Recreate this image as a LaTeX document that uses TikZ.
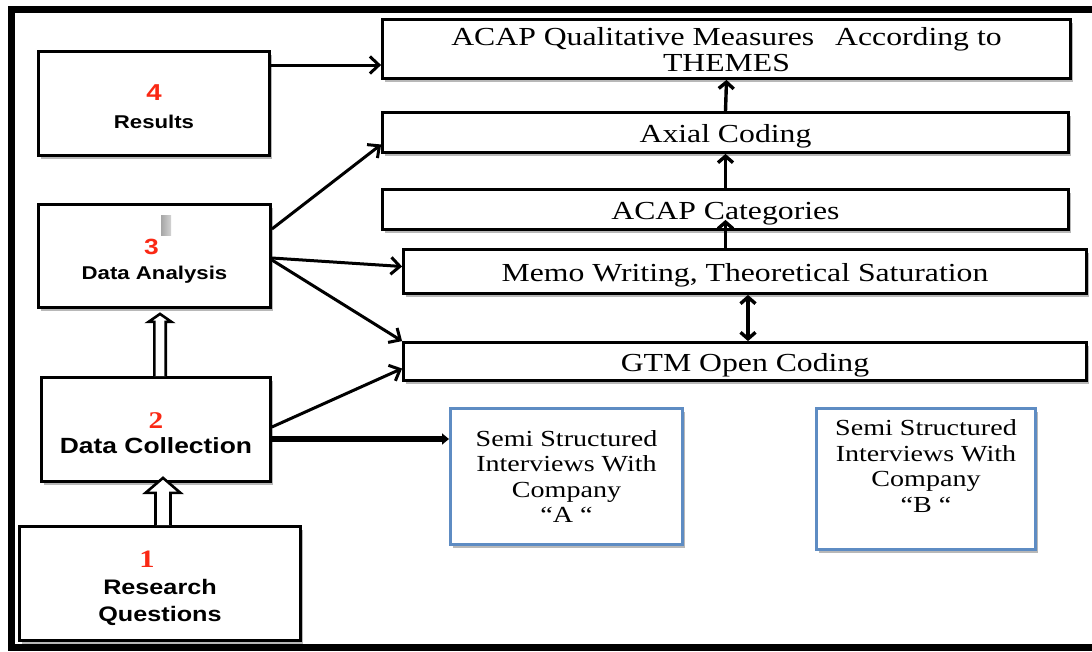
\documentclass[tikz,border=0pt]{standalone}
\usepackage{fontspec}
\newfontfamily\rserif[FakeStretch=1.22]{Liberation Serif}
\newfontfamily\lsans[FakeStretch=1.2]{Liberation Sans}
\usetikzlibrary{arrows.meta,shadows,calc}
\definecolor{numred}{RGB}{250,40,20}
\definecolor{bluebox}{RGB}{94,140,195}
\begin{document}
\begin{tikzpicture}[x=1pt,y=-1pt,
  shadowed/.style={drop shadow={shadow xshift=2.5pt,shadow yshift=-3pt,opacity=0.28,fill=black}},
  lbox/.style={draw=black,line width=2.8pt,fill=white,shadowed,align=center,inner sep=0pt},
  rbox/.style={draw=black,line width=2.8pt,fill=white,shadowed,align=center,inner sep=0pt,font=\rserif\fontsize{26}{26}\selectfont},
  oneline/.style={text height=20pt,text depth=0pt},
  sbox/.style={draw=bluebox,line width=3pt,fill=white,shadowed,align=center,inner sep=0pt,font=\rserif\fontsize{23}{25.5}\selectfont},
  arr/.style={line width=3pt,-{Straight Barb[length=9pt,width=17pt]}},
  varr/.style={line width=3.4pt,-{Straight Barb[length=6.5pt,width=15pt]}},
  dvarr/.style={line width=3.4pt,{Straight Barb[length=6.5pt,width=15pt]}-{Straight Barb[length=6.5pt,width=15pt]}},
  thickarr/.style={line width=5.5pt,-{Triangle[length=7pt,width=11pt]}},
  hollow/.style={draw=black,line width=2.6pt,fill=white,line join=miter},
]
\useasboundingbox (0,0) rectangle (1092,651);
\fill[white] (0,0) rectangle (1092,651);
% outer frame
\draw[line width=7pt] (1100,9.5) -- (11.5,9.5) -- (11.5,647.5) -- (1100,647.5);

% left column
\node[lbox,minimum width=231pt,minimum height=104pt,text height=49pt,text depth=0pt,
  font=\lsans\bfseries\fontsize{18.5}{28}\selectfont] (res) at (154,103.5)
  {{\fontsize{23}{28}\selectfont\color{numred}4}\\Results};
\node[lbox,minimum width=232pt,minimum height=103pt,text height=46pt,text depth=0pt,
  font=\lsans\bfseries\fontsize{18.5}{25}\selectfont] (da) at (154.5,256)
  {{\fontsize{22}{25}\selectfont\color{numred}3\kern6pt}\\Data Analysis};
\node[lbox,minimum width=229pt,minimum height=104pt,text height=47pt,text depth=0pt,
  font=\lsans\bfseries\fontsize{22}{25}\selectfont] (dc) at (156,429.5)
  {{\rserif\fontsize{24}{25}\selectfont\color{numred}2}\\Data Collection};
\node[lbox,minimum width=281pt,minimum height=114pt,text height=75pt,text depth=0pt,
  font=\lsans\bfseries\fontsize{21}{27}\selectfont] (rq) at (160,583.5)
  {{\rserif\fontsize{25}{27}\selectfont\color{numred}1\kern26pt}\\Research\\Questions};
\shade[left color=gray!70,right color=gray!35] ($(da.center)+(6.5,-41)$) rectangle ($(da.center)+(16.5,-21)$);

% right column
\node[rbox,minimum width=688pt,minimum height=59pt,text height=44pt,text depth=0pt] (acapq) at (726.5,49)
  {ACAP Qualitative Measures\hspace{0.5em} According to\\THEMES};
\node[rbox,oneline,minimum width=686pt,minimum height=40pt] (axial) at (725.5,132.5) {Axial Coding};
\node[rbox,oneline,minimum width=686pt,minimum height=40pt] (cat) at (725.5,209.5) {ACAP Categories};
\node[rbox,oneline,minimum width=683pt,minimum height=44pt] (memo) at (745,271.5) {Memo Writing, Theoretical Saturation};
\node[rbox,oneline,minimum width=683pt,minimum height=38pt] (gtm) at (745,361.5) {GTM Open Coding};

\node[sbox,minimum width=232pt,minimum height=136pt] (semiA) at (566.5,476.5)
  {Semi Structured\\Interviews With\\Company\\“A “};
\node[sbox,minimum width=219pt,minimum height=141pt] (semiB) at (926,479)
  {Semi Structured\\Interviews With\\Company\\“B “\\\mbox{}};

% connectors
\draw[arr] ([yshift=38.5pt]res.east) -- ([yshift=38.5pt]res.east -| acapq.west);
\draw[arr] ([yshift=27pt]da.east) -- ([yshift=-12pt]axial.west);
\draw[arr] ([yshift=-2pt]da.east) -- ([yshift=5pt]memo.west);
\draw[arr] ([yshift=-4pt]da.east) -- (gtm.north west);
\draw[arr] ([yshift=2.5pt]dc.east) -- ([yshift=-7pt]gtm.west);
\draw[thickarr] ([yshift=-9.5pt]dc.east) -- ([yshift=-9.5pt]dc.east -| semiA.west);

\draw[varr] (axial.north) -- (acapq.south);
\draw[varr] (cat.north) -- (axial.south);
\draw[varr] (memo.north -| cat.south) -- ([yshift=11pt]cat.south);
\draw[dvarr] ([xshift=3pt]memo.south) -- ([xshift=3pt]gtm.north);

% hollow block arrows
\coordinate (b1) at ($(rq.north)+(3,0)$);
\coordinate (t1) at ($(dc.south)+(7,0)$);
\draw[hollow] ($(b1)+(-7.5,0)$) -- ($(t1)+(-7.5,10)$) -- ($(t1)+(-17.5,10)$) -- ($(t1)+(0,-5)$)
  -- ($(t1)+(17.5,10)$) -- ($(t1)+(7.5,10)$) -- ($(b1)+(7.5,0)$);
\coordinate (b2) at ($(dc.north)+(4,0)$);
\coordinate (t2) at ($(da.south)+(5.5,0)$);
\draw[hollow] ($(b2)+(-5.7,0)$) -- ($(t2)+(-5.7,13)$) -- ($(t2)+(-11.5,13)$) -- ($(t2)+(0,5)$)
  -- ($(t2)+(11.5,13)$) -- ($(t2)+(5.7,13)$) -- ($(b2)+(5.7,0)$);
\end{tikzpicture}
\end{document}
